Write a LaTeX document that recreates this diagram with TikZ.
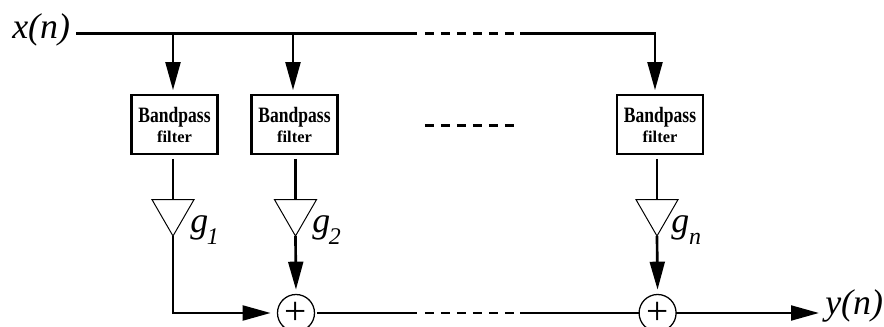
\documentclass[tikz,border=0pt]{standalone}
\usepackage{fontspec}
\setmainfont{Liberation Serif}
\newfontfamily\bpffont[FakeStretch=0.8]{Liberation Serif}
\usetikzlibrary{arrows.meta,shapes.geometric}
\newcommand{\gainlbl}[2]{g\kern#1\raisebox{-8.5pt}{\fontsize{17}{17}\selectfont #2}}
\newcommand{\bpftext}{Bandpass\\{\rmfamily\fontsize{11.7}{14.2}\selectfont filter}}
\begin{document}
\begin{tikzpicture}[
		bpf/.style={draw, line width=1.6pt, minimum width=2.15cm, minimum height=1.475cm, inner sep=0pt, outer sep=0pt, align=center, font=\bpffont\bfseries\fontsize{15.6}{14.2}\selectfont},
		gain/.style={draw, regular polygon, regular polygon sides=3, shape border rotate=180, minimum size=1.2125cm, inner sep=0pt, outer sep=0pt, line width=0.7pt},
		sum/.style={draw, circle, minimum size=0.925cm, inner sep=0pt, outer sep=0pt, line width=0.9pt, font=\fontsize{28}{28}\selectfont},
		lbl/.style={anchor=base west, inner sep=0pt, font=\itshape\fontsize{25.5}{25.5}\selectfont},
		wire/.style={line width=1.9pt},
		arrow/.style={wire, -{Triangle[length=0.7cm, width=0.37cm]}},
		gap/.style={wire, dash pattern=on 6.4pt off 5pt}
	]
	\path[use as bounding box, clip] (0, 0) rectangle (22.1, -8.175);

	\node[lbl] (xn) at (0.3, -0.975) {x(n)};
	\node[lbl] (yn) at (20.625, -7.875) {y(n)};

	\coordinate (tapa) at (4.325, -0.8375);
	\coordinate (tapb) at (7.325, -0.8375);
	\coordinate (tapn) at (16.375, -0.8375);
	\coordinate (topl) at (10.42, -0.8375);
	\coordinate (topr) at (13.0, -0.8375);
	\coordinate (dtopl) at (10.62, -0.8375);
	\coordinate (dtopr) at (12.85, -0.8375);
	\coordinate (dmidl) at (10.62, -3.1375);
	\coordinate (dmidr) at (12.85, -3.1375);
	\coordinate (botl) at (10.42, -7.825);
	\coordinate (botr) at (13.0, -7.825);
	\coordinate (dbotl) at (10.62, -7.825);
	\coordinate (dbotr) at (12.85, -7.825);

	\node[bpf] (bpfa) at (4.3625, -3.1125) {\bpftext};
	\node[bpf] (bpfb) at (7.3625, -3.1125) {\bpftext};
	\node[bpf] (bpfn) at (16.5, -3.1125) {\bpftext};

	\node[gain] (gaina) at (4.325, -5.294) {};
	\node[gain] (gainb) at (7.3875, -5.294) {};
	\node[gain] (gainn) at (16.425, -5.294) {};

	\node[lbl] (ga) at (4.75, -5.825) {\gainlbl{-1pt}{1}};
	\node[lbl] (gb) at (7.8, -5.825) {\gainlbl{-1pt}{2}};
	\node[lbl] (gn) at (16.775, -5.825) {\gainlbl{0pt}{n}};

	\node[sum] (sumb) at (7.4, -7.825) {+};
	\node[sum] (sumn) at (16.44, -7.825) {+};

	\draw[wire, shorten <=0.15cm] (xn.east |- tapa) -- (topl);
	\draw[gap] (dtopl) -- (dtopr);
	\draw[arrow, shorten >=0.12cm] (topr) -- (tapn) -- (tapn |- bpfn.north);
	\draw[arrow, shorten >=0.12cm] (tapa) -- (tapa |- bpfa.north);
	\draw[arrow, shorten >=0.12cm] (tapb) -- (tapb |- bpfb.north);
	\draw[gap] (dmidl) -- (dmidr);

	\draw[wire, shorten <=0.12cm] (gaina.corner 1 |- bpfa.south) -- (gaina.side 2);
	\draw[wire, shorten <=0.12cm] (gainb.corner 1 |- bpfb.south) -- (gainb.side 2);
	\draw[wire, shorten <=0.12cm] (gainn.corner 1 |- bpfn.south) -- (gainn.side 2);

	\draw[arrow, shorten >=0.17cm] (gaina.corner 1) |- (sumb.west);
	\draw[arrow, shorten >=0.12cm] (gainb.corner 1) -- (sumb.north);
	\draw[arrow, shorten >=0.12cm] (gainn.corner 1) -- (sumn.north);

	\draw[wire, shorten <=0.07cm] (sumb.east) -- (botl);
	\draw[gap] (dbotl) -- (dbotr);
	\draw[wire] (botr) -- (sumn.west);
	\draw[arrow, shorten >=0.15cm] (sumn.east) -- (sumn.east -| yn.west);
\end{tikzpicture}
\end{document}
